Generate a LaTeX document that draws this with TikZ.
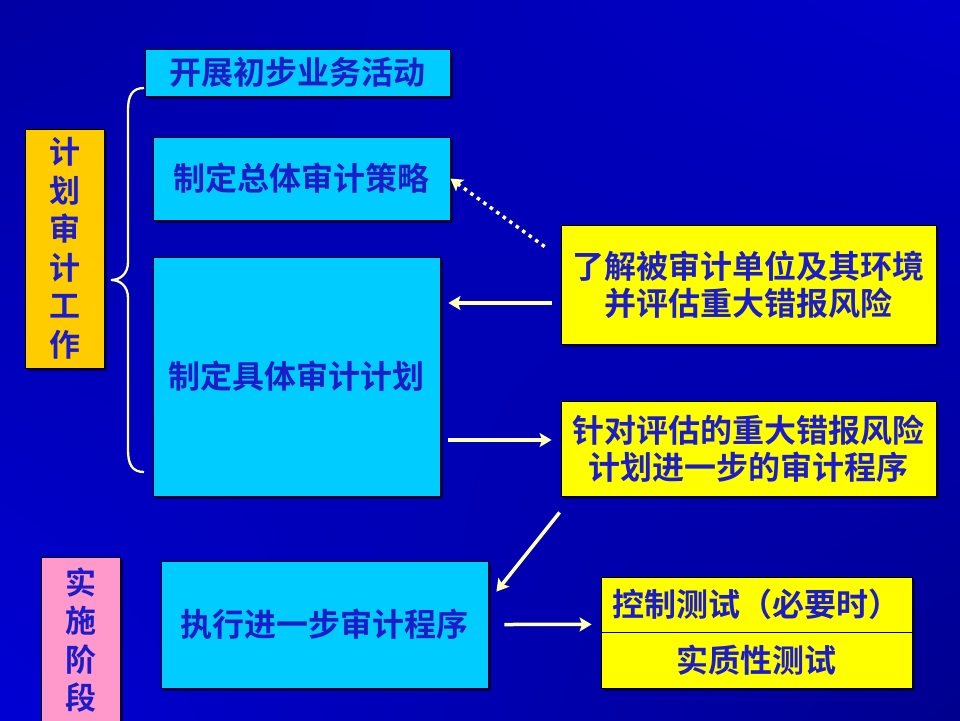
\documentclass[tikz,border=0pt]{standalone}
\usepackage{fontspec}
\newfontfamily\cjk{Noto Sans CJK SC}[BoldFont={Noto Sans CJK SC Bold}]
\usetikzlibrary{arrows.meta,calc,shadows,shadings}
\definecolor{cyanbox}{HTML}{00CCFF}
\definecolor{yelbox}{HTML}{FFFF00}
\definecolor{orgbox}{HTML}{FFCC00}
\definecolor{pinkbox}{HTML}{FF99CC}
\definecolor{txtblue}{HTML}{1C1CC8}
\definecolor{cream}{HTML}{FFFFB8}
\definecolor{bgul}{HTML}{0000A4}
\definecolor{bgur}{HTML}{0000CC}
\definecolor{bgll}{HTML}{0000D4}
\definecolor{bglr}{HTML}{00008E}
\tikzset{
  basebox/.style={draw=black, line width=0.8pt, inner sep=0pt, text=txtblue,
    font=\cjk\bfseries\fontsize{32}{37}\selectfont, align=center,
    drop shadow={shadow xshift=2.5pt, shadow yshift=-2.5pt, opacity=0.55, fill=black}},
  cbox/.style={basebox, fill=cyanbox},
  ybox/.style={basebox, fill=yelbox},
  obox/.style={basebox, fill=orgbox, font=\cjk\bfseries\fontsize{31}{38.5}\selectfont},
  pbox/.style={basebox, fill=pinkbox, font=\cjk\bfseries\fontsize{31}{38.5}\selectfont},
  arr/.style={draw=cream, line width=3.5pt, -{Stealth[length=12pt,width=14pt,inset=2.5pt]}},
  dotarr/.style={arr, line cap=butt, dash pattern=on 3.5pt off 4.5pt},
  bracestyle/.style={draw=cream, line width=2.3pt}
}
\begin{document}
\begin{tikzpicture}[x=1pt,y=-1pt]
\useasboundingbox (0,0) rectangle (960,720);
\shade[upper left=bgul, upper right=bgur, lower left=bgll, lower right=bglr] (0,0) rectangle (960,720);

% left column labels
\node[obox, minimum width=79pt, minimum height=239pt] (P) at (64.5,248.5) {计\\划\\审\\计\\工\\作};
\node[pbox, minimum width=79pt, minimum height=166pt] (Q) at (80.5,640) {实\\施\\阶\\段};

% planning boxes
\node[cbox, minimum width=305pt, minimum height=47pt] (A) at (297.5,72.5) {开展初步业务活动};
\node[cbox, minimum width=297pt, minimum height=83pt] (B) at (301.5,178.5) {制定总体审计策略};
\node[cbox, minimum width=287pt, minimum height=239pt] (C) at (296.5,376.5) {制定具体审计计划};

% right boxes
\node[ybox, minimum width=375pt, minimum height=119pt] (D) at (748.5,284.5) {了解被审计单位及其环境\\并评估重大错报风险};
\node[ybox, minimum width=375pt, minimum height=95pt] (E) at (748.5,448.5) {针对评估的重大错报风险\\计划进一步的审计程序};

% implementation
\node[cbox, minimum width=327pt, minimum height=127pt] (F) at (324.5,624.5) {执行进一步审计程序};
\node[ybox, minimum width=311pt, minimum height=55pt] (G1) at (756.5,604.5) {控制测试（必要时）};
\node[ybox, minimum width=311pt, minimum height=56pt] (G2) at (756.5,660) {实质性测试};
\draw[black, line width=0.8pt] (G1.south west) -- (G1.south east);

% brace
\draw[bracestyle] (144,88) .. controls (132,88) and (128,96) .. (128,110) -- (128,262)
  .. controls (128,274) and (120,280) .. (111,280)
  .. controls (120,280) and (128,286) .. (128,298) -- (128,450)
  .. controls (128,464) and (132,472) .. (144,472);

% connectors
\draw[dotarr] ($(D.north west)+(-16,22)$) -- (B.east);
\draw[arr] ($(D.west)+(-9,18.5)$) -- ($(C.east)+(8,-73.5)$);
\draw[arr] ($(C.east)+(8,63.5)$) -- ($(E.west)+(-9,-8.5)$);
\draw[arr] ($(E.south west)+(-1,16)$) -- ($(F.north east)+(8,31)$);
\draw[arr] ($(F.east)+(16,0)$) -- ($(G1.south west)+(-9,-8)$);
\end{tikzpicture}
\end{document}
